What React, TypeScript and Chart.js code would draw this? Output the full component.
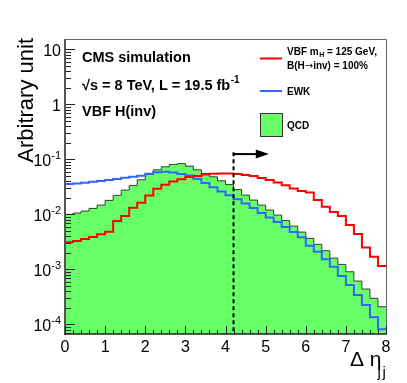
import React, { useEffect, useRef } from "react";
import { Chart, registerables } from "chart.js";
Chart.register(...registerables);

// Bin edges of Delta eta_jj (40 bins of width 0.2)
const binEdges = [
  0, 0.2, 0.4, 0.6, 0.8, 1.0, 1.2, 1.4, 1.6, 1.8,
  2.0, 2.2, 2.4, 2.6, 2.8, 3.0, 3.2, 3.4, 3.6, 3.8,
  4.0, 4.2, 4.4, 4.6, 4.8, 5.0, 5.2, 5.4, 5.6, 5.8,
  6.0, 6.2, 6.4, 6.6, 6.8, 7.0, 7.2, 7.4, 7.6, 7.8, 8.0,
];

// QCD (green filled)
const qcdValues = [
  0.0100, 0.01056, 0.01149, 0.01285, 0.01476, 0.01798, 0.02215, 0.02766, 0.03365, 0.04256,
  0.05336, 0.0647, 0.07335, 0.0811, 0.0839, 0.07553, 0.0647, 0.05559, 0.04827, 0.04081,
  0.03482, 0.02825, 0.02244, 0.0182, 0.01476, 0.01197, 0.00971, 0.00771, 0.00612, 0.00477,
  0.00366, 0.00285, 0.00218, 0.0016, 0.00123, 0.000904, 0.000612, 0.000438, 0.000297, 0.000209,
];

// EWK (blue)
const ewkValues = [
  0.0356, 0.0366, 0.0376, 0.0392, 0.0403, 0.042, 0.0438, 0.0463, 0.0483, 0.0503,
  0.0548, 0.0587, 0.0595, 0.058, 0.0545, 0.0508, 0.0438, 0.0371, 0.0313, 0.026,
  0.0222, 0.0189, 0.0157, 0.013, 0.01056, 0.00875, 0.00724, 0.00588, 0.00477, 0.00382,
  0.00269, 0.00209, 0.00152, 0.00111, 0.000755, 0.000519, 0.000341, 0.000224, 0.000134, 0.0000811,
];

// VBF mH = 125 GeV, B(H->inv) = 100% (red)
const vbfValues = [
  0.0031, 0.00327, 0.00356, 0.00387, 0.00433, 0.00483, 0.00755, 0.00931, 0.01318, 0.01626,
  0.022, 0.0294, 0.0345, 0.0398, 0.0435, 0.0477, 0.0501, 0.053, 0.0548, 0.0552,
  0.0552, 0.0541, 0.0523, 0.0497, 0.0461, 0.042, 0.0379, 0.0338, 0.0297, 0.0265,
  0.0249, 0.0182, 0.0137, 0.0111, 0.00931, 0.00639, 0.00439, 0.00251, 0.00169, 0.00115,
];

const xTickLabels = [0, 1, 2, 3, 4, 5, 6, 7, 8];
const yDecades = [-4, -3, -2, -1, 0, 1];
const X_MIN = 0;
const X_MAX = 8;
const Y_MIN = 6.67e-5;
const Y_MAX = 15.5;
const CUT_VALUE = 4.2;
const ARROW_END = 5.08;
const CUT_TOP = 0.135;
const ARROW_Y = 0.125;

const FONT = '"Liberation Sans", Arial, Helvetica, sans-serif';

function toSteps(vals: number[]) {
  return binEdges.map((x, i) => ({ x, y: vals[Math.min(i, vals.length - 1)] }));
}

const overlayPlugin = {
  id: "overlay",
  afterDraw(chart: any) {
    const ctx: CanvasRenderingContext2D = chart.ctx;
    const xs = chart.scales.x;
    const ys = chart.scales.y;
    const { left, right, top, bottom } = chart.chartArea;
    ctx.save();

    // cut line + arrow
    const xc = xs.getPixelForValue(CUT_VALUE);
    ctx.strokeStyle = "#000";
    ctx.lineWidth = 2;
    ctx.setLineDash([4, 3]);
    ctx.beginPath();
    ctx.moveTo(xc, ys.getPixelForValue(CUT_TOP));
    ctx.lineTo(xc, bottom);
    ctx.stroke();
    ctx.setLineDash([]);
    const ya = ys.getPixelForValue(ARROW_Y);
    const xTip = xs.getPixelForValue(ARROW_END);
    ctx.beginPath();
    ctx.moveTo(xc, ya);
    ctx.lineTo(xTip - 12, ya);
    ctx.stroke();
    ctx.fillStyle = "#000";
    ctx.beginPath();
    ctx.moveTo(xTip, ya);
    ctx.lineTo(xTip - 13, ya - 4.5);
    ctx.lineTo(xTip - 13, ya + 4.5);
    ctx.closePath();
    ctx.fill();

    // frame
    ctx.strokeStyle = "#666";
    ctx.lineWidth = 1;
    ctx.beginPath();
    ctx.moveTo(left, top + 0.5);
    ctx.lineTo(right + 0.5, top + 0.5);
    ctx.lineTo(right + 0.5, bottom);
    ctx.stroke();
    ctx.strokeStyle = "#555";
    ctx.lineWidth = 2;
    ctx.beginPath();
    ctx.moveTo(left, top);
    ctx.lineTo(left, bottom + 1);
    ctx.stroke();
    ctx.strokeStyle = "#222";
    ctx.lineWidth = 1.5;
    ctx.beginPath();
    ctx.moveTo(left, bottom);
    ctx.lineTo(right + 1, bottom);
    ctx.stroke();

    // y ticks
    ctx.strokeStyle = "#222";
    ctx.lineWidth = 1;
    ctx.beginPath();
    for (let d = -5; d <= 1; d++) {
      for (let k = 1; k <= 9; k++) {
        const v = k * Math.pow(10, d);
        if (v < Y_MIN || v > Y_MAX) continue;
        const y = Math.round(ys.getPixelForValue(v)) + 0.5;
        const len = k === 1 ? 9 : 5;
        ctx.moveTo(left + 1, y);
        ctx.lineTo(left + 1 + len, y);
      }
    }
    // x ticks
    for (let i = 0; i <= 40; i++) {
      const v = i * 0.2;
      const x = Math.round(xs.getPixelForValue(v)) + 0.5;
      const len = i % 5 === 0 ? 8 : 4;
      ctx.moveTo(x, bottom);
      ctx.lineTo(x, bottom - len);
    }
    ctx.stroke();

    // x tick labels
    ctx.fillStyle = "#000";
    ctx.font = `16px ${FONT}`;
    ctx.textAlign = "center";
    ctx.textBaseline = "alphabetic";
    xTickLabels.forEach((t) => {
      ctx.fillText(String(t), xs.getPixelForValue(t), 352);
    });

    // y tick labels
    yDecades.forEach((d) => {
      const y = ys.getPixelForValue(Math.pow(10, d)) + 6.5;
      const xr = 61;
      ctx.textAlign = "left";
      if (d === 0 || d === 1) {
        ctx.font = `16px ${FONT}`;
        const s = d === 0 ? "1" : "10";
        const w = ctx.measureText(s).width;
        ctx.fillText(s, xr - w, y);
      } else {
        ctx.font = `11px ${FONT}`;
        const e = String(d);
        const we = ctx.measureText(e).width;
        ctx.font = `16px ${FONT}`;
        const wb = ctx.measureText("10").width;
        ctx.fillText("10", xr - we - wb, y);
        ctx.font = `11px ${FONT}`;
        ctx.fillText(e, xr - we, y - 7);
      }
    });

    // axis titles
    ctx.font = `22px ${FONT}`;
    ctx.save();
    ctx.translate(33, 38);
    ctx.rotate(-Math.PI / 2);
    ctx.textAlign = "right";
    ctx.fillText("Arbitrary unit", 0, 0);
    ctx.restore();
    ctx.textAlign = "left";
    ctx.font = `21px ${FONT}`;
    ctx.fillText("\u0394 \u03b7", 350, 366);
    ctx.font = `15px ${FONT}`;
    ctx.fillText("j", 377.5, 377);
    ctx.fillText("j", 382.5, 377);

    // annotations
    ctx.font = `bold 14.5px ${FONT}`;
    ctx.fillText("CMS simulation", 82, 61.5);
    const t2 = "\u221As = 8 TeV, L = 19.5 fb";
    ctx.fillText(t2, 82, 89.5);
    const w2 = ctx.measureText(t2).width;
    ctx.font = `bold 10px ${FONT}`;
    ctx.fillText("-1", 82 + w2 + 0.5, 83);
    ctx.font = `bold 14.5px ${FONT}`;
    ctx.fillText("VBF H(inv)", 82, 115.5);

    // legend
    ctx.lineWidth = 2;
    ctx.strokeStyle = "#ff0000";
    ctx.beginPath();
    ctx.moveTo(260, 58.5);
    ctx.lineTo(282, 58.5);
    ctx.stroke();
    ctx.strokeStyle = "rgb(51,102,255)";
    ctx.beginPath();
    ctx.moveTo(260, 91);
    ctx.lineTo(282, 91);
    ctx.stroke();
    ctx.fillStyle = "#66ff66";
    ctx.fillRect(260.5, 113.5, 22, 23);
    ctx.lineWidth = 1;
    ctx.strokeStyle = "#333";
    ctx.strokeRect(260.5, 113.5, 22, 23);

    ctx.fillStyle = "#000";
    ctx.font = `bold 10px ${FONT}`;
    let xx = 287;
    ctx.fillText("VBF m", xx, 54.5);
    xx += ctx.measureText("VBF m").width;
    ctx.font = `bold 7px ${FONT}`;
    ctx.fillText("H", xx + 0.5, 57);
    xx += ctx.measureText("H").width + 0.5;
    ctx.font = `bold 10px ${FONT}`;
    ctx.fillText(" = 125 GeV,", xx, 54.5);
    // second line with a wide arrow glyph
    xx = 287;
    ctx.fillText("B(H", xx, 68.5);
    xx += ctx.measureText("B(H").width;
    ctx.font = `10px "DejaVu Sans", ${FONT}`;
    ctx.fillText("\u2192", xx, 68.5);
    xx += ctx.measureText("\u2192").width;
    ctx.font = `bold 10px ${FONT}`;
    ctx.fillText("inv) = 100%", xx, 68.5);
    ctx.fillText("EWK", 287, 95);
    ctx.fillText("QCD", 287, 128.5);

    ctx.restore();
  },
};

export default function App() {
  const ref = useRef<HTMLCanvasElement>(null);
  useEffect(() => {
    const chart = new Chart(ref.current as HTMLCanvasElement, {
      type: "line",
      data: {
        datasets: [
          {
            label: "VBF",
            data: toSteps(vbfValues),
            borderColor: "#ff0000",
            borderWidth: 2,
            stepped: true,
            pointRadius: 0,
            fill: false,
            order: 0,
          },
          {
            label: "EWK",
            data: toSteps(ewkValues),
            borderColor: "rgb(51,102,255)",
            borderWidth: 2,
            stepped: true,
            pointRadius: 0,
            fill: false,
            order: 1,
          },
          {
            label: "QCD",
            data: toSteps(qcdValues),
            borderColor: "#3a3a3a",
            borderWidth: 1,
            backgroundColor: "#66ff66",
            stepped: true,
            pointRadius: 0,
            fill: "start",
            order: 2,
          },
        ],
      } as any,
      options: {
        animation: false,
        responsive: false,
        devicePixelRatio: 1,
        layout: { padding: { left: 65, top: 39, right: 21, bottom: 49 } },
        scales: {
          x: { type: "linear", min: X_MIN, max: X_MAX, display: false },
          y: { type: "logarithmic", min: Y_MIN, max: Y_MAX, display: false },
        },
        plugins: {
          legend: { display: false },
          tooltip: { enabled: false },
        },
        events: [],
      } as any,
      plugins: [overlayPlugin],
    });
    return () => chart.destroy();
  }, []);
  return (
    <div style={{ position: "fixed", left: 0, top: 0, width: 407, height: 383, background: "#fff" }}>
      <canvas ref={ref} width={407} height={383} style={{ width: 407, height: 383, display: "block" }} />
    </div>
  );
}
